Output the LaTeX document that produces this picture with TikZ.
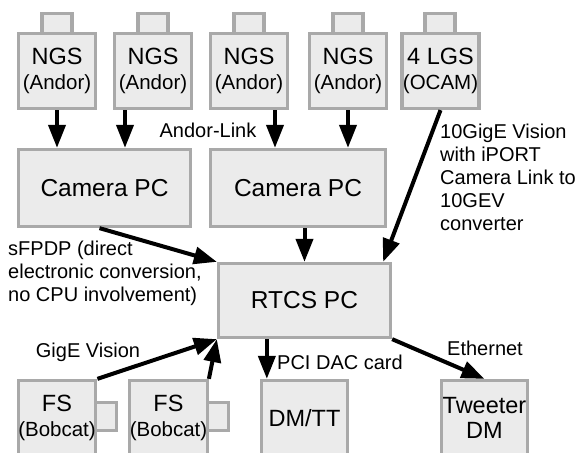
\documentclass[tikz,border=0pt]{standalone}
\usepackage{fontspec}
\setmainfont{Liberation Sans}
\usetikzlibrary{arrows.meta}
\definecolor{boxfill}{HTML}{EBEBEB}
\definecolor{boxline}{HTML}{A9A9A9}
\newcommand{\subline}[1]{{\fontsize{20.5}{25}\selectfont #1}}

\begin{document}
\begin{tikzpicture}[x=1pt,y=-1pt,
		hop/.style={draw=boxline,fill=boxfill,line width=3.3pt,align=center,inner sep=0pt,font=\fontsize{23.5}{25}\selectfont},
		cam/.style={hop,minimum width=77pt,minimum height=75pt},
		pc/.style={hop,minimum height=77pt,font=\fontsize{24.5}{26}\selectfont},
		nub/.style={draw=boxline,fill=boxfill,line width=3.3pt},
		link/.style={line width=4pt,-{Triangle[length=23pt,width=17pt]}},
		note/.style={font=\fontsize{20}{23}\selectfont,inner sep=0pt}]
	\useasboundingbox (0,0) rectangle (579,453);
	\clip (0,0) rectangle (579,453);
	% wavefront sensors
	\foreach \x in {57,153,249,348,440}
		\draw[nub] (\x-15,13.5) rectangle (\x+15,35);
	\node[cam] (ngs1) at (57,71) {NGS\\\subline{(Andor)}};
	\node[cam] (ngs2) at (153,71) {NGS\\\subline{(Andor)}};
	\node[cam] (ngs3) at (249,71) {NGS\\\subline{(Andor)}};
	\node[cam] (ngs4) at (348,71) {NGS\\\subline{(Andor)}};
	\node[cam] (lgs) at (440.5,71) {4 LGS\\\subline{(OCAM)}};
	% computers
	\node[pc,minimum width=172pt] (cam1) at (104.5,188) {Camera PC};
	\node[pc,minimum width=175pt] (cam2) at (298,188) {Camera PC};
	\node[pc,minimum width=172pt,minimum height=74pt] (rtcs) at (304.5,300.5) {RTCS PC};
	% bottom row
	\draw[nub] (95,402.5) rectangle (116.5,430.5);
	\draw[nub] (203,402.5) rectangle (228.5,430.5);
	\node[cam] (fs1) at (57,418) {FS\\\subline{(Bobcat)}};
	\node[cam,minimum width=74pt] (fs2) at (168.5,418) {FS\\\subline{(Bobcat)}};
	\node[cam,minimum width=86pt] (dmtt) at (304.5,418) {DM/TT};
	\node[cam,minimum width=86pt] (tweeter) at (484.5,418) {Tweeter\\DM};
	% links
	\draw[link] (ngs1.south) -- (ngs1.south |- cam1.north);
	\draw[link] ([xshift=-28pt]ngs2.south) -- ([xshift=-28pt]ngs2.south |- cam1.north);
	\draw[link] ([xshift=26pt]ngs3.south) -- ([xshift=26pt]ngs3.south |- cam2.north);
	\draw[link] (ngs4.south) -- (ngs4.south |- cam2.north);
	\draw[link] (lgs.south) -- ([xshift=-9pt]rtcs.north east);
	\draw[link] ([xshift=-5pt]cam1.south) -- (rtcs.north west);
	\draw[link] (cam2.south -| rtcs.north) -- (rtcs.north);
	\draw[link] (fs1.north east) -- (rtcs.south west);
	\draw[link] (fs2.north east) -- (rtcs.south west);
	\draw[link] ([xshift=7pt]dmtt.north west |- rtcs.south) -- ([xshift=7pt]dmtt.north west);
	\draw[link] (rtcs.south east) -- (tweeter.north);
	% labels
	\node[note] (andorlink) at (208,130) {Andor-Link};
	\node[note,align=left,anchor=west] (sfpdp) at (8,273) {sFPDP (direct\\electronic conversion,\\no CPU involvement)};
	\node[note,align=left,anchor=north west] (tengige) at (440,124) {10GigE Vision\\with iPORT\\Camera Link to\\10GEV\\converter};
	\node[note] (gige) at (88,352) {GigE Vision};
	\node[note] (pcidac) at (340,362) {PCI DAC card};
	\node[note] (ethernet) at (485,348) {Ethernet};
\end{tikzpicture}
\end{document}
